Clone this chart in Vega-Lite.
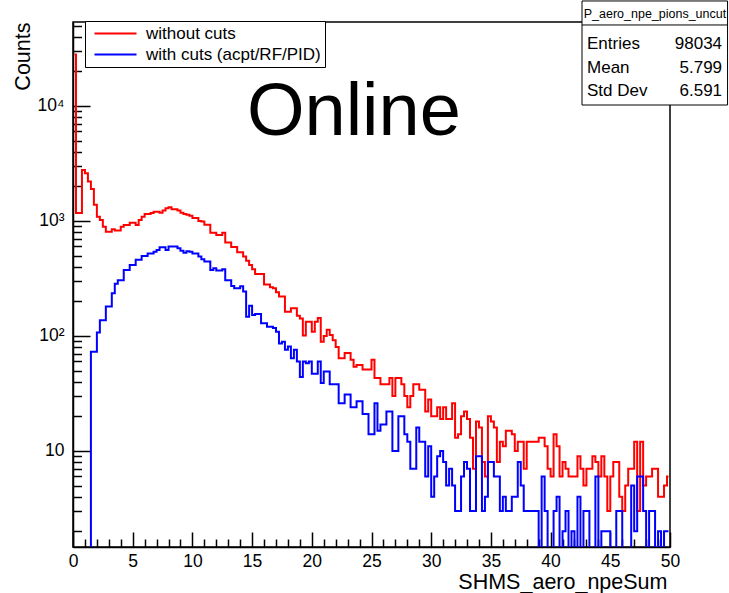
{
  "$schema": "https://vega.github.io/schema/vega-lite/v6.json",
  "width": 597,
  "height": 525,
  "autosize": {"type": "none"},
  "padding": {"left": 73, "top": 22, "right": 59, "bottom": 46},
  "background": "white",
  "config": {
    "font": "Liberation Sans",
    "view": {"stroke": "black", "strokeWidth": 1.5},
    "axis": {"domainColor": "black", "tickColor": "black", "labelColor": "black", "titleColor": "black", "labelFont": "Liberation Sans", "titleFont": "Liberation Sans", "titleFontWeight": "normal", "grid": false, "zindex": 1},
    "text": {"font": "Liberation Sans", "color": "black"}
  },
  "datasets": {
    "hist": [
      {"npe":0.125,"nocut":28000,"cut":1},{"npe":0.375,"nocut":1170,"cut":1},{"npe":0.625,"nocut":1170,"cut":1},{"npe":0.875,"nocut":2775,"cut":1},{"npe":1.125,"nocut":2600,"cut":1},{"npe":1.375,"nocut":2200,"cut":1},{"npe":1.625,"nocut":1900,"cut":73},{"npe":1.875,"nocut":1380,"cut":73},{"npe":2.125,"nocut":1090,"cut":107},{"npe":2.375,"nocut":1020,"cut":137},
      {"npe":2.625,"nocut":892,"cut":137},{"npe":2.875,"nocut":807,"cut":180},{"npe":3.125,"nocut":807,"cut":180},{"npe":3.375,"nocut":847,"cut":235},{"npe":3.625,"nocut":824,"cut":285},{"npe":3.875,"nocut":824,"cut":305},{"npe":4.125,"nocut":892,"cut":305},{"npe":4.375,"nocut":923,"cut":375},{"npe":4.625,"nocut":923,"cut":375},{"npe":4.875,"nocut":967,"cut":415},
      {"npe":5.125,"nocut":967,"cut":415},{"npe":5.375,"nocut":923,"cut":460},{"npe":5.625,"nocut":1020,"cut":460},{"npe":5.875,"nocut":1090,"cut":495},{"npe":6.125,"nocut":1150,"cut":495},{"npe":6.375,"nocut":1150,"cut":520},{"npe":6.625,"nocut":1170,"cut":520},{"npe":6.875,"nocut":1200,"cut":540},{"npe":7.125,"nocut":1200,"cut":560},{"npe":7.375,"nocut":1180,"cut":590},
      {"npe":7.625,"nocut":1230,"cut":590},{"npe":7.875,"nocut":1290,"cut":560},{"npe":8.125,"nocut":1315,"cut":600},{"npe":8.375,"nocut":1262,"cut":600},{"npe":8.625,"nocut":1262,"cut":600},{"npe":8.875,"nocut":1230,"cut":580},{"npe":9.125,"nocut":1180,"cut":550},{"npe":9.375,"nocut":1150,"cut":530},{"npe":9.625,"nocut":1130,"cut":545},{"npe":9.875,"nocut":1110,"cut":540},
      {"npe":10.125,"nocut":1060,"cut":520},{"npe":10.375,"nocut":1060,"cut":520},{"npe":10.625,"nocut":1000,"cut":490},{"npe":10.875,"nocut":990,"cut":465},{"npe":11.125,"nocut":925,"cut":445},{"npe":11.375,"nocut":925,"cut":445},{"npe":11.625,"nocut":790,"cut":375},{"npe":11.875,"nocut":790,"cut":388},{"npe":12.125,"nocut":755,"cut":370},{"npe":12.375,"nocut":755,"cut":370},
      {"npe":12.625,"nocut":790,"cut":380},{"npe":12.875,"nocut":650,"cut":305},{"npe":13.125,"nocut":650,"cut":305},{"npe":13.375,"nocut":595,"cut":272},{"npe":13.625,"nocut":595,"cut":260},{"npe":13.875,"nocut":535,"cut":260},{"npe":14.125,"nocut":535,"cut":270},{"npe":14.375,"nocut":490,"cut":243},{"npe":14.625,"nocut":450,"cut":147},{"npe":14.875,"nocut":415,"cut":183},
      {"npe":15.125,"nocut":380,"cut":152},{"npe":15.375,"nocut":345,"cut":155},{"npe":15.625,"nocut":345,"cut":155},{"npe":15.875,"nocut":345,"cut":129},{"npe":16.125,"nocut":280,"cut":129},{"npe":16.375,"nocut":280,"cut":120},{"npe":16.625,"nocut":265,"cut":120},{"npe":16.875,"nocut":260,"cut":117},{"npe":17.125,"nocut":240,"cut":109},{"npe":17.375,"nocut":220,"cut":86},
      {"npe":17.625,"nocut":220,"cut":89},{"npe":17.875,"nocut":162,"cut":76},{"npe":18.125,"nocut":162,"cut":81},{"npe":18.375,"nocut":174,"cut":64},{"npe":18.625,"nocut":174,"cut":76},{"npe":18.875,"nocut":150,"cut":60},{"npe":19.125,"nocut":142,"cut":44},{"npe":19.375,"nocut":101,"cut":60},{"npe":19.625,"nocut":133,"cut":58},{"npe":19.875,"nocut":133,"cut":60},
      {"npe":20.125,"nocut":109,"cut":47},{"npe":20.375,"nocut":133,"cut":47},{"npe":20.625,"nocut":143,"cut":60},{"npe":20.875,"nocut":89,"cut":39},{"npe":21.125,"nocut":100,"cut":49},{"npe":21.375,"nocut":113,"cut":49},{"npe":21.625,"nocut":102,"cut":38},{"npe":21.875,"nocut":92,"cut":38},{"npe":22.125,"nocut":80,"cut":38},{"npe":22.375,"nocut":64,"cut":26},
      {"npe":22.625,"nocut":64,"cut":26},{"npe":22.875,"nocut":71,"cut":31},{"npe":23.125,"nocut":71,"cut":31},{"npe":23.375,"nocut":62,"cut":24},{"npe":23.625,"nocut":54,"cut":24},{"npe":23.875,"nocut":56,"cut":27},{"npe":24.125,"nocut":56,"cut":27},{"npe":24.375,"nocut":51,"cut":21},{"npe":24.625,"nocut":51,"cut":21},{"npe":24.875,"nocut":51,"cut":14},
      {"npe":25.125,"nocut":62,"cut":14},{"npe":25.375,"nocut":43,"cut":26},{"npe":25.625,"nocut":43,"cut":15},{"npe":25.875,"nocut":38,"cut":17},{"npe":26.125,"nocut":38,"cut":17},{"npe":26.375,"nocut":38,"cut":22},{"npe":26.625,"nocut":43,"cut":22},{"npe":26.875,"nocut":30,"cut":10},{"npe":27.125,"nocut":43,"cut":10},{"npe":27.375,"nocut":43,"cut":20},
      {"npe":27.625,"nocut":38,"cut":20},{"npe":27.875,"nocut":30,"cut":14},{"npe":28.125,"nocut":24,"cut":12},{"npe":28.375,"nocut":30,"cut":7},{"npe":28.625,"nocut":38,"cut":7},{"npe":28.875,"nocut":38,"cut":16},{"npe":29.125,"nocut":34,"cut":12},{"npe":29.375,"nocut":34,"cut":12},{"npe":29.625,"nocut":22,"cut":6},{"npe":29.875,"nocut":28,"cut":11},
      {"npe":30.125,"nocut":20,"cut":4},{"npe":30.375,"nocut":20,"cut":6},{"npe":30.625,"nocut":24,"cut":9},{"npe":30.875,"nocut":19,"cut":10},{"npe":31.125,"nocut":24,"cut":8},{"npe":31.375,"nocut":19,"cut":5},{"npe":31.625,"nocut":19,"cut":7},{"npe":31.875,"nocut":26,"cut":5},{"npe":32.125,"nocut":13,"cut":3},{"npe":32.375,"nocut":14,"cut":3},
      {"npe":32.625,"nocut":20,"cut":6},{"npe":32.875,"nocut":22,"cut":8},{"npe":33.125,"nocut":19,"cut":7},{"npe":33.375,"nocut":13,"cut":3},{"npe":33.625,"nocut":7,"cut":3},{"npe":33.875,"nocut":18,"cut":9},{"npe":34.125,"nocut":16,"cut":9},{"npe":34.375,"nocut":8,"cut":3},{"npe":34.625,"nocut":6,"cut":4},{"npe":34.875,"nocut":20,"cut":8},
      {"npe":35.125,"nocut":18,"cut":8},{"npe":35.375,"nocut":16,"cut":6},{"npe":35.625,"nocut":8,"cut":6},{"npe":35.875,"nocut":12,"cut":3},{"npe":36.125,"nocut":11,"cut":4},{"npe":36.375,"nocut":15,"cut":3},{"npe":36.625,"nocut":15,"cut":3},{"npe":36.875,"nocut":14,"cut":4},{"npe":37.125,"nocut":10,"cut":4},{"npe":37.375,"nocut":12,"cut":8},
      {"npe":37.625,"nocut":12,"cut":5},{"npe":37.875,"nocut":7,"cut":3},{"npe":38.125,"nocut":12,"cut":3},{"npe":38.375,"nocut":12,"cut":3},{"npe":38.625,"nocut":12,"cut":3},{"npe":38.875,"nocut":12,"cut":3},{"npe":39.125,"nocut":13,"cut":1},{"npe":39.375,"nocut":13,"cut":6},{"npe":39.625,"nocut":11,"cut":3},{"npe":39.875,"nocut":7,"cut":1},
      {"npe":40.125,"nocut":6,"cut":1},{"npe":40.375,"nocut":14,"cut":3},{"npe":40.625,"nocut":11,"cut":4},{"npe":40.875,"nocut":6,"cut":1},{"npe":41.125,"nocut":8,"cut":2},{"npe":41.375,"nocut":7,"cut":3},{"npe":41.625,"nocut":6,"cut":1},{"npe":41.875,"nocut":6,"cut":2},{"npe":42.125,"nocut":6,"cut":1},{"npe":42.375,"nocut":9,"cut":4},
      {"npe":42.625,"nocut":7,"cut":1},{"npe":42.875,"nocut":5,"cut":3},{"npe":43.125,"nocut":7,"cut":3},{"npe":43.375,"nocut":7,"cut":1},{"npe":43.625,"nocut":9,"cut":1},{"npe":43.875,"nocut":8,"cut":6},{"npe":44.125,"nocut":6,"cut":1},{"npe":44.375,"nocut":9,"cut":2},{"npe":44.625,"nocut":6,"cut":2},{"npe":44.875,"nocut":3,"cut":2},
      {"npe":45.125,"nocut":6,"cut":1},{"npe":45.375,"nocut":8,"cut":1},{"npe":45.625,"nocut":8,"cut":3},{"npe":45.875,"nocut":4,"cut":3},{"npe":46.125,"nocut":3,"cut":1},{"npe":46.375,"nocut":5,"cut":1},{"npe":46.625,"nocut":7,"cut":1},{"npe":46.875,"nocut":7,"cut":5},{"npe":47.125,"nocut":12,"cut":2},{"npe":47.375,"nocut":3,"cut":6},
      {"npe":47.625,"nocut":12,"cut":6},{"npe":47.875,"nocut":5,"cut":3},{"npe":48.125,"nocut":6,"cut":1},{"npe":48.375,"nocut":6,"cut":3},{"npe":48.625,"nocut":7,"cut":3},{"npe":48.875,"nocut":7,"cut":1},{"npe":49.125,"nocut":4,"cut":2},{"npe":49.375,"nocut":4,"cut":1},{"npe":49.625,"nocut":5,"cut":2},{"npe":49.875,"nocut":6,"cut":2}
    ]
  },
  "resolve": {"axis": {"x": "independent", "y": "independent"}},
  "layer": [
    {
      "data": {"name": "hist"},
      "mark": {"type": "line", "interpolate": "step", "clip": true, "strokeWidth": 2},
      "encoding": {
        "x": {
          "field": "npe", "type": "quantitative",
          "scale": {"domain": [0, 50], "nice": false, "zero": false},
          "axis": {"orient": "bottom", "values": [0,5,10,15,20,25,30,35,40,45,50], "ticks": false, "domain": true, "domainWidth": 1.5, "labelFontSize": 17.5, "labelPadding": 5, "labelFlush": false, "labelOverlap": false, "title": "SHMS_aero_npeSum", "titleFontSize": 21.5, "titleX": 594, "titleY": 41, "titleAlign": "right", "titleBaseline": "alphabetic", "titleAnchor": "end"}
        },
        "y": {
          "field": "nocut", "type": "quantitative",
          "scale": {"type": "log", "domain": [1.462, 53700], "nice": false},
          "axis": {"orient": "left", "values": [10, 100, 1000, 10000], "ticks": false, "domain": true, "domainWidth": 1.5, "labelFontSize": 17.5, "labelPadding": 9, "labelOverlap": false, "labelExpr": "datum.value == 10 ? '10' : datum.value == 100 ? '10²' : datum.value == 1000 ? '10³' : '10⁴'", "title": "Counts", "titleFontSize": 21.5, "titleAngle": 270, "titleX": -44, "titleY": 0, "titleAlign": "right", "titleBaseline": "alphabetic"}
        },
        "color": {
          "datum": "without cuts", "type": "nominal",
          "scale": {"domain": ["without cuts", "with cuts (acpt/RF/PID)"], "range": ["#ff0000", "#0000ff"]},
          "legend": {"orient": "none", "legendX": 12, "legendY": -1, "title": null, "strokeColor": "black", "fillColor": "white", "padding": 4, "cornerRadius": 0, "symbolType": "M-3,0H3", "symbolSize": 196, "symbolStrokeWidth": 2, "symbolOffset": 18, "labelFontSize": 17, "labelFont": "Liberation Sans", "labelColor": "black", "labelOffset": 22, "labelLimit": 400, "rowPadding": 3}
        }
      }
    },
    {
      "data": {"name": "hist"},
      "mark": {"type": "line", "interpolate": "step", "clip": true, "strokeWidth": 2},
      "encoding": {
        "x": {
          "field": "npe", "type": "quantitative",
          "axis": {"orient": "bottom", "values": [0,5,10,15,20,25,30,35,40,45,50], "labels": false, "domain": false, "tickSize": -15, "tickWidth": 1.5, "title": null}
        },
        "y": {
          "field": "cut", "type": "quantitative", "scale": {"type": "log"},
          "axis": {"orient": "left", "values": [10, 100, 1000, 10000], "labels": false, "domain": false, "tickSize": -17, "tickWidth": 1.5, "title": null}
        },
        "color": {"datum": "with cuts (acpt/RF/PID)", "type": "nominal"}
      }
    },
    {
      "data": {"values": [{}]},
      "mark": {"type": "rect", "fill": "white", "stroke": "black", "strokeWidth": 1},
      "encoding": {
        "x": {"datum": 42.63, "type": "quantitative", "axis": {"orient": "bottom", "values": [1,2,3,4,6,7,8,9,11,12,13,14,16,17,18,19,21,22,23,24,26,27,28,29,31,32,33,34,36,37,38,39,41,42,43,44,46,47,48,49], "labels": false, "domain": false, "tickSize": -8, "tickWidth": 1.5, "title": null}},
        "x2": {"datum": 54.82},
        "y": {"datum": 81800, "type": "quantitative", "scale": {"type": "log"}, "axis": {"orient": "left", "values": [2,3,4,5,6,7,8,9,20,30,40,50,60,70,80,90,200,300,400,500,600,700,800,900,2000,3000,4000,5000,6000,7000,8000,9000,20000,30000,40000,50000], "labels": false, "domain": false, "tickSize": -8.5, "tickWidth": 1.5, "title": null}},
        "y2": {"datum": 10190}
      }
    },
    {
      "data": {"values": [{}]},
      "mark": {"type": "rule", "stroke": "black", "strokeWidth": 1},
      "encoding": {
        "x": {"datum": 42.63, "type": "quantitative", "axis": null},
        "x2": {"datum": 54.82},
        "y": {"datum": 50600, "type": "quantitative", "scale": {"type": "log"}, "axis": null}
      }
    },
    {
      "data": {"values": [{}]},
      "mark": {"type": "text", "text": "P_aero_npe_pions_uncut", "align": "center", "baseline": "alphabetic", "fontSize": 12.5},
      "encoding": {
        "x": {"datum": 48.74, "type": "quantitative", "axis": null},
        "y": {"datum": 58200, "type": "quantitative", "scale": {"type": "log"}, "axis": null}
      }
    },
    {
      "data": {"values": [{}]},
      "mark": {"type": "text", "text": "Entries\nMean\nStd Dev", "lineBreak": "\n", "lineHeight": 23.5, "align": "left", "baseline": "alphabetic", "fontSize": 17},
      "encoding": {
        "x": {"datum": 43.05, "type": "quantitative", "axis": null},
        "y": {"datum": 31250, "type": "quantitative", "scale": {"type": "log"}, "axis": null}
      }
    },
    {
      "data": {"values": [{}]},
      "mark": {"type": "text", "text": "98034\n5.799\n6.591", "lineBreak": "\n", "lineHeight": 23.5, "align": "right", "baseline": "alphabetic", "fontSize": 17},
      "encoding": {
        "x": {"datum": 54.36, "type": "quantitative", "axis": null},
        "y": {"datum": 31250, "type": "quantitative", "scale": {"type": "log"}, "axis": null}
      }
    },
    {
      "data": {"values": [{}]},
      "mark": {"type": "text", "text": "Online", "align": "left", "baseline": "alphabetic", "fontSize": 74},
      "encoding": {
        "x": {"datum": 14.57, "type": "quantitative", "axis": null},
        "y": {"datum": 5590, "type": "quantitative", "scale": {"type": "log"}, "axis": null}
      }
    }
  ]
}
